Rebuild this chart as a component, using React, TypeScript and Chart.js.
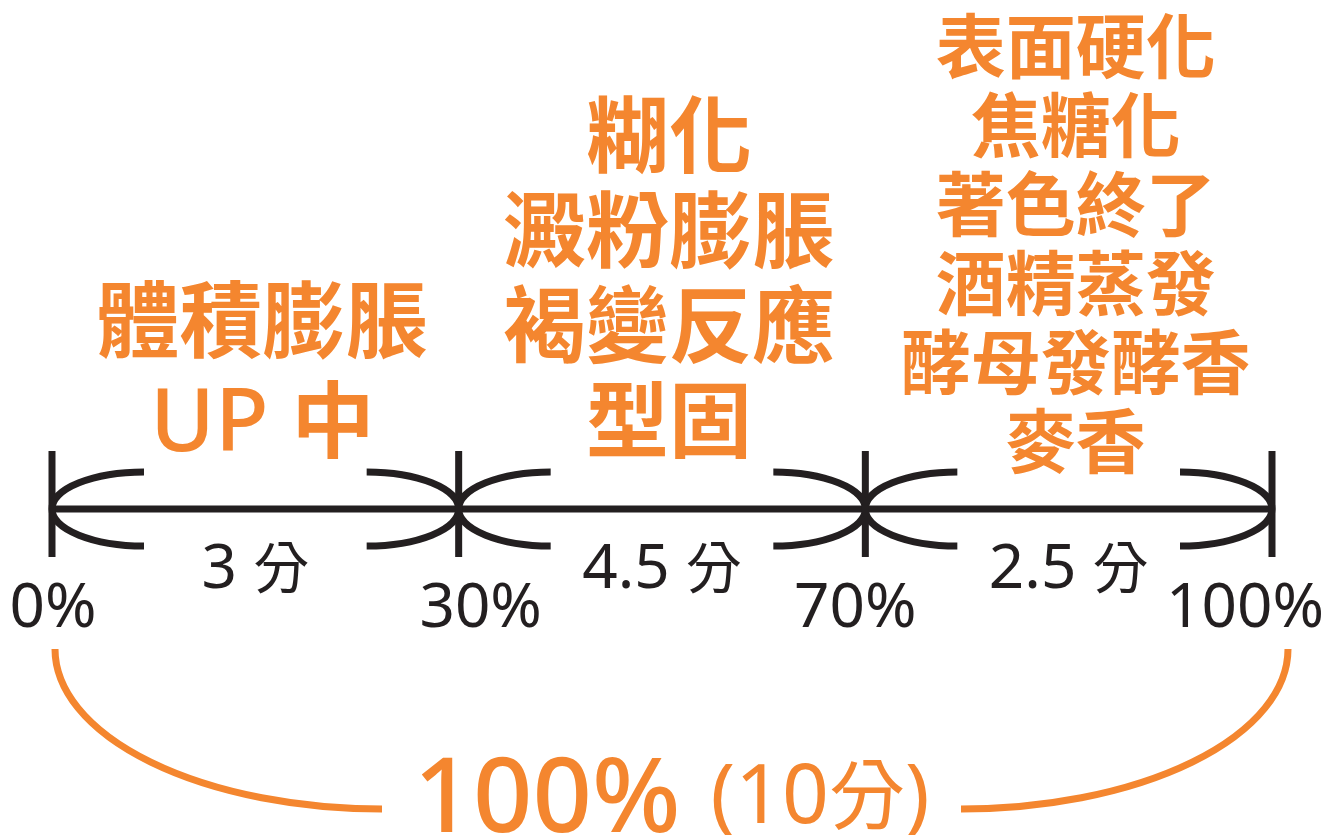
import React, { useEffect, useRef } from 'react';
import { Chart, registerables } from 'chart.js';

Chart.register(...registerables);

// ---- data ----
const tickLabels = ['0%', '30%', '70%', '100%'];
const segmentMinutes = [3, 4.5, 2.5];
const totalPercent = '100%';
const totalMinutes = 10;
const stage1Notes = ['體積膨脹', 'UP 中'];
const stage2Notes = ['糊化', '澱粉膨脹', '褐變反應', '型固'];
const stage3Notes = ['表面硬化', '焦糖化', '著色終了', '酒精蒸發', '酵母發酵香', '麥香'];
const axisLine = tickLabels.map(() => 0);

// ---- styles ----
const BLACK = '#231f20';
const ORANGE = '#f4862f';
const CJK_RE = /[\u2e80-\u9fff\uf900-\ufaff\uff00-\uffef]/;

type Run = { t: string; cjk: boolean };
function splitRuns(text: string): Run[] {
  const out: Run[] = [];
  for (const ch of text) {
    const cjk = CJK_RE.test(ch);
    const last = out[out.length - 1];
    if (last && last.cjk === cjk) last.t += ch;
    else out.push({ t: ch, cjk });
  }
  return out;
}

function measureMixed(ctx: CanvasRenderingContext2D, text: string, latinFont: string, cjkFont: string) {
  const parts = splitRuns(text);
  let total = 0;
  const widths = parts.map((p) => {
    ctx.font = p.cjk ? cjkFont : latinFont;
    const w = ctx.measureText(p.t).width;
    total += w;
    return w;
  });
  return { parts, widths, total };
}

function drawMixed(
  ctx: CanvasRenderingContext2D,
  text: string,
  cx: number,
  baseline: number,
  latinFont: string,
  cjkFont: string,
  color: string,
  align: 'center' | 'left' = 'center'
) {
  const m = measureMixed(ctx, text, latinFont, cjkFont);
  let x = align === 'center' ? cx - m.total / 2 : cx;
  ctx.fillStyle = color;
  ctx.textAlign = 'left';
  ctx.textBaseline = 'alphabetic';
  m.parts.forEach((p, i) => {
    ctx.font = p.cjk ? cjkFont : latinFont;
    ctx.fillText(p.t, x, baseline);
    x += m.widths[i];
  });
  return m.total;
}

const diagramPlugin = {
  id: 'breadDiagram',
  afterDatasetsDraw(chart: any) {
    const ctx: CanvasRenderingContext2D = chart.ctx;
    const xs = chart.scales.x;
    const ys = chart.scales.y;
    const y0 = ys.getPixelForValue(0);
    const px = tickLabels.map((_, i) => xs.getPixelForValue(i));

    ctx.save();
    // ticks
    ctx.strokeStyle = BLACK;
    ctx.lineWidth = 7;
    ctx.lineCap = 'butt';
    px.forEach((x) => {
      ctx.beginPath();
      ctx.moveTo(x, y0 - 58);
      ctx.lineTo(x, y0 + 48);
      ctx.stroke();
    });

    // brackets
    const RX = 92;
    const RY = 37;
    for (let i = 0; i < segmentMinutes.length; i++) {
      const a = px[i];
      const b = px[i + 1];
      ctx.beginPath();
      ctx.ellipse(a + RX, y0, RX, RY, 0, Math.PI / 2, Math.PI * 1.5);
      ctx.stroke();
      ctx.beginPath();
      ctx.ellipse(b - RX, y0, RX, RY, 0, -Math.PI / 2, Math.PI / 2);
      ctx.stroke();
    }

    // segment minute labels
    const blackLatin = '400 62px "Noto Sans", "DejaVu Sans", sans-serif';
    const blackCjk = '400 56px "Noto Sans CJK TC", sans-serif';
    segmentMinutes.forEach((m, i) => {
      const mid = (px[i] + px[i + 1]) / 2;
      drawMixed(ctx, `${m} 分`, mid, y0 + 79, blackLatin, blackCjk, BLACK);
    });

    // percentage labels
    const pctShift = [1, 22, -10, -27];
    tickLabels.forEach((lab, i) => {
      drawMixed(ctx, lab, px[i] + pctShift[i], y0 + 118, blackLatin, blackCjk, BLACK);
    });

    // orange stage notes
    const blocks = [
      { lines: stage1Notes, size: 83, first: 351, step: 100 },
      { lines: stage2Notes, size: 83, first: 166, step: 95 },
      { lines: stage3Notes, size: 70, first: 72.5, step: 79 },
    ];
    blocks.forEach((blk, i) => {
      const mid = (px[i] + px[i + 1]) / 2 + 7;
      const cjkFont = `700 ${blk.size}px "Noto Sans CJK TC", sans-serif`;
      const latinFont = `500 ${Math.round(blk.size * 1.06)}px "Noto Sans", sans-serif`;
      blk.lines.forEach((line, j) => {
        drawMixed(ctx, line, mid, blk.first + j * blk.step, latinFont, cjkFont, ORANGE);
      });
    });

    // bottom brace
    ctx.strokeStyle = ORANGE;
    ctx.lineWidth = 7;
    const arcTop = y0 + 140;
    const arcBottom = y0 + 300;
    const lx = px[0] + 3;
    const rx = px[px.length - 1] + 16;
    const ERX = 327;
    const ERY = arcBottom - arcTop;
    ctx.beginPath();
    ctx.ellipse(lx + ERX, arcTop, ERX, ERY, 0, Math.PI / 2, Math.PI);
    ctx.stroke();
    ctx.beginPath();
    ctx.ellipse(rx - ERX, arcTop, ERX, ERY, 0, 0, Math.PI / 2);
    ctx.stroke();

    // bottom total label
    const bigFont = '500 104px "Noto Sans", sans-serif';
    const midLatin = '400 82px "Noto Sans", sans-serif';
    const midCjk = '400 76px "Noto Sans CJK TC", sans-serif';
    const minText = `(${totalMinutes}分)`;
    ctx.font = bigFont;
    const w1 = ctx.measureText(totalPercent).width;
    const w2 = measureMixed(ctx, minText, midLatin, midCjk).total;
    const gap = 30;
    const centerX = (lx + ERX + rx - ERX) / 2;
    const startX = centerX - (w1 + gap + w2) / 2;
    ctx.fillStyle = ORANGE;
    ctx.textAlign = 'left';
    ctx.textBaseline = 'alphabetic';
    ctx.font = bigFont;
    ctx.fillText(totalPercent, startX, y0 + 323);
    drawMixed(ctx, minText, startX + w1 + gap, y0 + 314, midLatin, midCjk, ORANGE, 'left');

    ctx.restore();
  },
};

export default function App() {
  const canvasRef = useRef<HTMLCanvasElement | null>(null);

  useEffect(() => {
    const canvas = canvasRef.current;
    if (!canvas) return;
    const chart = new Chart(canvas, {
      type: 'line',
      data: {
        labels: tickLabels,
        datasets: [
          {
            data: axisLine,
            borderColor: BLACK,
            borderWidth: 7,
            pointRadius: 0,
            borderCapStyle: 'butt',
            fill: false,
            tension: 0,
          },
        ],
      },
      options: {
        responsive: false,
        animation: false,
        devicePixelRatio: 1,
        layout: { padding: { left: 52, right: 66, top: 409, bottom: 226 } },
        plugins: {
          legend: { display: false },
          title: { display: false },
          tooltip: { enabled: false },
        },
        events: [],
        scales: {
          x: { type: 'category', offset: false, display: false },
          y: { type: 'linear', min: -1, max: 1, display: false },
        },
      },
      plugins: [diagramPlugin],
    });
    return () => chart.destroy();
  }, []);

  return (
    <div style={{ position: 'fixed', left: 0, top: 0, width: 1338, height: 835, background: '#fff' }}>
      <canvas ref={canvasRef} width={1338} height={835} style={{ width: 1338, height: 835, display: 'block' }} />
    </div>
  );
}
